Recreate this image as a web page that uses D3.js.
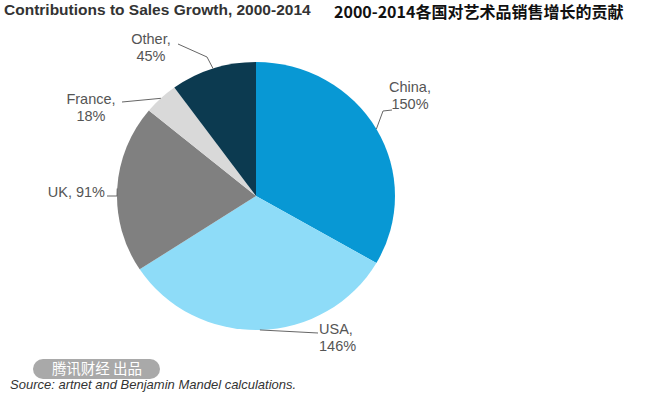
<!DOCTYPE html>
<html><head><meta charset="utf-8">
<script src="https://cdn.jsdelivr.net/npm/d3@7"></script>
<style>html,body{margin:0;padding:0;background:#fff;}svg{display:block;}</style>
</head><body>
<svg id="c" width="656" height="398"></svg>
<script>
const categories = ["China", "USA", "UK", "France", "Other"];
const values = [150, 146, 91, 18, 45];
const colors = ["#0898d4", "#8edcf8", "#808080", "#d9d9d9", "#0c3a50"];
const titleEn = "Contributions to Sales Growth, 2000-2014";
const titleZh = "2000-2014各国对艺术品销售增长的贡献";
const sourceText = "Source: artnet and Benjamin Mandel calculations.";
const watermark = "腾讯财经 出品";

const svg = d3.select("#c");
const cx = 256, cy = 196, r = 139, ry = 134;

// titles
svg.append("text").attr("x", 4).attr("y", 15)
  .attr("font-family", "Liberation Sans, Arial, sans-serif").attr("font-weight", "bold")
  .attr("font-size", 15.5).attr("fill", "#333").text(titleEn);
svg.append("text").attr("x", 334).attr("y", 18)
  .attr("font-family", "Noto Sans CJK SC, serif").attr("font-weight", "bold")
  .attr("font-size", 16).attr("fill", "#111").text(titleZh);

// pie
const pie = d3.pie().sort(null).value(d => d)(values);
const arc = d3.arc().innerRadius(0).outerRadius(r);
const g = svg.append("g").attr("transform", `translate(${cx},${cy}) scale(1,${ry / r})`);
g.selectAll("path").data(pie).join("path")
  .attr("d", arc).attr("fill", (d, i) => colors[i]);

// label layout: elbow and label end, label text pos
const layout = [
  {elbow: [383, 111], end: [392, 110], tx: 410, ty: 92, anchor: "middle"},      // China
  {elbow: null, end: [318, 333], tx: 319, ty: 334, anchor: "start"},            // USA
  {elbow: [117, 196], end: [107, 196], tx: 105, ty: 197, anchor: "end", one: true}, // UK
  {elbow: null, end: [122, 102], tx: 91, ty: 104, anchor: "middle"},            // France
  {elbow: [207, 57], end: [178, 44], tx: 151, ty: 44, anchor: "middle"}         // Other
];
const font = "Liberation Sans, Arial, sans-serif";
pie.forEach((d, i) => {
  const a = (d.startAngle + d.endAngle) / 2;
  const px = cx + Math.sin(a) * r, py = cy - Math.cos(a) * ry;
  const L = layout[i];
  const pts = [[px, py]];
  if (L.elbow) pts.push(L.elbow);
  pts.push(L.end);
  svg.append("path").attr("d", d3.line()(pts)).attr("fill", "none")
    .attr("stroke", "#666").attr("stroke-width", 1);
  const t = svg.append("text").attr("font-family", font).attr("font-size", 14.5)
    .attr("fill", "#555").attr("text-anchor", L.anchor);
  const pct = values[i] + "%";
  if (L.one) {
    t.attr("x", L.tx).attr("y", L.ty).text(categories[i] + ", " + pct);
  } else {
    t.append("tspan").attr("x", L.tx).attr("y", L.ty).text(categories[i] + ",");
    t.append("tspan").attr("x", L.tx).attr("y", L.ty + 17).text(pct);
  }
});

// watermark
svg.append("rect").attr("x", 33).attr("y", 359).attr("width", 127).attr("height", 20)
  .attr("rx", 10).attr("fill", "#a9a9a9");
svg.append("text").attr("x", 97).attr("y", 374).attr("text-anchor", "middle")
  .attr("font-family", "Noto Sans CJK SC, sans-serif").attr("font-size", 14.5)
  .attr("fill", "#fff").text(watermark);

// source
svg.append("text").attr("x", 10).attr("y", 389)
  .attr("font-family", font).attr("font-style", "italic").attr("font-size", 13)
  .attr("fill", "#333").text(sourceText);
</script>
</body></html>
